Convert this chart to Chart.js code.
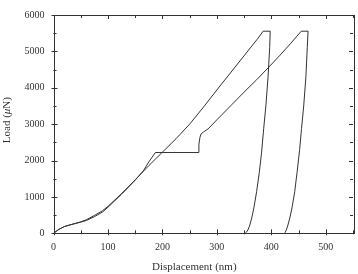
<!DOCTYPE html>
<html>
<head>
<meta charset="utf-8">
<script src="https://cdn.jsdelivr.net/npm/chart.js@4"></script>
<style>
  html, body { margin: 0; padding: 0; background: #fff; }
  #wrap { width: 358px; height: 274px; }
</style>
</head>
<body>
<div id="wrap"><canvas id="c" width="358" height="274"></canvas></div>
<script>
// ---- Data ----
const curveA_x = [0, 10, 20, 30, 40, 50, 60, 75, 90, 100, 125, 150, 175, 200, 225, 250, 275, 300, 325, 350, 375, 385, 398, 397, 394, 390, 386, 382, 378, 373, 368, 364, 360, 357, 354, 352];
const curveA_y = [0, 110, 185, 230, 270, 315, 370, 490, 620, 740, 1090, 1470, 1860, 2230, 2600, 3000, 3460, 3940, 4410, 4880, 5350, 5555, 5555, 5100, 4300, 3500, 2880, 2204, 1680, 1146, 700, 420, 200, 90, 25, 0];

const curveB_x = [0, 10, 20, 30, 40, 50, 60, 75, 90, 100, 125, 150, 165, 175, 187, 265.5, 267, 269, 271, 275, 284, 300, 327, 350, 373, 395, 415, 435, 455, 467.5, 466, 463.5, 459.5, 455.5, 452, 447.5, 443, 438, 434, 430, 427.5, 425.5, 424];
const curveB_y = [0, 110, 185, 230, 270, 305, 350, 455, 585, 715, 1075, 1460, 1720, 1960, 2220, 2220, 2450, 2640, 2730, 2780, 2870, 3120, 3530, 3880, 4220, 4560, 4880, 5210, 5555, 5555, 5100, 4300, 3500, 2880, 2300, 1700, 1146, 700, 420, 200, 90, 25, 0];

const xTickValues = [0, 100, 200, 300, 400, 500];
const yTickValues = [0, 1000, 2000, 3000, 4000, 5000, 6000];
const xLabel = 'Displacement (nm)';
const yLabelParts = ['Load (', '\u03bc', 'N)'];

const toPoints = (xs, ys) => xs.map((x, i) => ({ x: x, y: ys[i] }));

const INK = '#333';
const FONT = '"Liberation Serif", "Times New Roman", serif';

const frameTicks = {
  id: 'frameTicks',
  afterDraw(chart) {
    const { ctx, chartArea: a, scales } = chart;
    const xs = scales.x, ys = scales.y;
    ctx.save();
    ctx.strokeStyle = INK;
    ctx.lineWidth = 1;
    ctx.strokeRect(Math.round(a.left) + 0.5, Math.round(a.top) + 0.5,
                   Math.round(a.right - a.left), Math.round(a.bottom - a.top));
    ctx.beginPath();
    for (let v = 0; v <= 550; v += 50) {
      const px = Math.round(xs.getPixelForValue(v)) + 0.5;
      const major = v % 100 === 0;
      const len = major ? 4 : 3;
      ctx.moveTo(px, a.bottom + (major ? 2 : 1));
      ctx.lineTo(px, a.bottom - len);
      ctx.moveTo(px, a.top);
      ctx.lineTo(px, a.top + len);
    }
    for (let v = 0; v <= 6000; v += 500) {
      const py = Math.round(ys.getPixelForValue(v)) + 0.5;
      const major = v % 1000 === 0;
      const len = major ? 4 : 3;
      ctx.moveTo(a.left - (major ? 2 : 0), py);
      ctx.lineTo(a.left + len, py);
      ctx.moveTo(a.right, py);
      ctx.lineTo(a.right - len, py);
    }
    ctx.stroke();

    // axis titles
    ctx.fillStyle = INK;
    ctx.textBaseline = 'middle';
    ctx.textAlign = 'center';
    ctx.font = '11px ' + FONT;
    ctx.fillText(xLabel, (a.left + a.right) / 2 - 9, 267.5);

    // y title, rotated, with italic mu
    const fonts = ['11px ' + FONT, 'italic 11px ' + FONT, '11px ' + FONT];
    let total = 0;
    const widths = yLabelParts.map((t, i) => { ctx.font = fonts[i]; const w = ctx.measureText(t).width; total += w; return w; });
    ctx.translate(7, (a.top + a.bottom) / 2 - 4);
    ctx.rotate(-Math.PI / 2);
    ctx.textAlign = 'left';
    let x = -total / 2;
    yLabelParts.forEach((t, i) => { ctx.font = fonts[i]; ctx.fillText(t, x, 0); x += widths[i]; });
    ctx.restore();
  }
};

const ds = (xs, ys) => ({
  data: toPoints(xs, ys),
  showLine: true,
  borderColor: INK,
  borderWidth: 1,
  pointRadius: 0,
  tension: 0,
  fill: false
});

new Chart(document.getElementById('c'), {
  type: 'scatter',
  data: { datasets: [ds(curveA_x, curveA_y), ds(curveB_x, curveB_y)] },
  options: {
    responsive: false,
    animation: false,
    devicePixelRatio: 1,
    layout: { padding: { top: 6, right: 5, left: 0, bottom: 0 } },
    plugins: { legend: { display: false }, tooltip: { enabled: false } },
    scales: {
      x: {
        type: 'linear', min: 0, max: 550,
        afterFit(s) { s.height = 40.7; },
        afterBuildTicks(s) { s.ticks = xTickValues.map(v => ({ value: v })); },
        grid: { display: false, drawTicks: false },
        border: { display: false },
        ticks: { padding: 8, color: INK, font: { family: FONT, size: 10 }, maxRotation: 0, autoSkip: false, callback: v => String(v) },
        title: { display: false }
      },
      y: {
        type: 'linear', min: 0, max: 6000,
        afterFit(s) { s.width = 53.5; },
        afterBuildTicks(s) { s.ticks = yTickValues.map(v => ({ value: v })); },
        grid: { display: false, drawTicks: false },
        border: { display: false },
        ticks: { padding: 9, color: INK, font: { family: FONT, size: 10 }, autoSkip: false, callback: v => String(v) },
        title: { display: false }
      }
    }
  },
  plugins: [frameTicks]
});
</script>
</body>
</html>
